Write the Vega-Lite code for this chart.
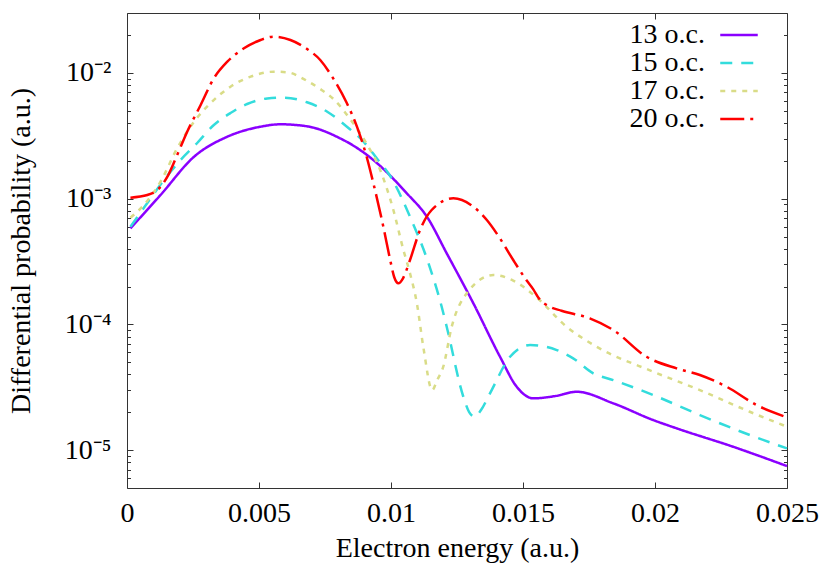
{
  "$schema": "https://vega.github.io/schema/vega-lite/v6.json",
  "width": 660,
  "height": 475,
  "autosize": {"type": "none"},
  "padding": {"left": 127, "top": 13, "right": 43, "bottom": 91},
  "background": "white",
  "data": {
    "values": [
      {"s": "13 o.c.", "E": 0.00013, "P": 0.000581},
      {"s": "13 o.c.", "E": 0.00127, "P": 0.00107},
      {"s": "13 o.c.", "E": 0.00254, "P": 0.002158},
      {"s": "13 o.c.", "E": 0.0038, "P": 0.003112},
      {"s": "13 o.c.", "E": 0.00506, "P": 0.00374},
      {"s": "13 o.c.", "E": 0.00581, "P": 0.003908},
      {"s": "13 o.c.", "E": 0.00682, "P": 0.003765},
      {"s": "13 o.c.", "E": 0.00807, "P": 0.003023},
      {"s": "13 o.c.", "E": 0.00883, "P": 0.00244},
      {"s": "13 o.c.", "E": 0.00933, "P": 0.002032},
      {"s": "13 o.c.", "E": 0.0106, "P": 0.001104},
      {"s": "13 o.c.", "E": 0.01136, "P": 0.000719},
      {"s": "13 o.c.", "E": 0.01211, "P": 0.000368},
      {"s": "13 o.c.", "E": 0.01312, "P": 0.0001472},
      {"s": "13 o.c.", "E": 0.01413, "P": 0.0000553},
      {"s": "13 o.c.", "E": 0.01476, "P": 0.00003195},
      {"s": "13 o.c.", "E": 0.01539, "P": 0.00002583},
      {"s": "13 o.c.", "E": 0.01621, "P": 0.0000269},
      {"s": "13 o.c.", "E": 0.01703, "P": 0.00002914},
      {"s": "13 o.c.", "E": 0.01842, "P": 0.00002357},
      {"s": "13 o.c.", "E": 0.01993, "P": 0.00001736},
      {"s": "13 o.c.", "E": 0.02082, "P": 0.00001491},
      {"s": "13 o.c.", "E": 0.02296, "P": 0.00001064},
      {"s": "13 o.c.", "E": 0.025, "P": 0.00000747},

      {"s": "15 o.c.", "E": 0.00013, "P": 0.000599},
      {"s": "15 o.c.", "E": 0.00077, "P": 0.000924},
      {"s": "15 o.c.", "E": 0.0014, "P": 0.001409},
      {"s": "15 o.c.", "E": 0.00203, "P": 0.002032},
      {"s": "15 o.c.", "E": 0.00266, "P": 0.002774},
      {"s": "15 o.c.", "E": 0.00329, "P": 0.003858},
      {"s": "15 o.c.", "E": 0.00392, "P": 0.004805},
      {"s": "15 o.c.", "E": 0.00455, "P": 0.005666},
      {"s": "15 o.c.", "E": 0.00531, "P": 0.006267},
      {"s": "15 o.c.", "E": 0.00594, "P": 0.00636},
      {"s": "15 o.c.", "E": 0.00682, "P": 0.005845},
      {"s": "15 o.c.", "E": 0.0076, "P": 0.004894},
      {"s": "15 o.c.", "E": 0.00833, "P": 0.00374},
      {"s": "15 o.c.", "E": 0.00896, "P": 0.00284},
      {"s": "15 o.c.", "E": 0.00946, "P": 0.002096},
      {"s": "15 o.c.", "E": 0.00997, "P": 0.001516},
      {"s": "15 o.c.", "E": 0.01072, "P": 0.000719},
      {"s": "15 o.c.", "E": 0.01142, "P": 0.0003063},
      {"s": "15 o.c.", "E": 0.01192, "P": 0.0001383},
      {"s": "15 o.c.", "E": 0.01211, "P": 0.0000959},
      {"s": "15 o.c.", "E": 0.01274, "P": 0.0000266},
      {"s": "15 o.c.", "E": 0.01296, "P": 0.0000201},
      {"s": "15 o.c.", "E": 0.01318, "P": 0.00001843},
      {"s": "15 o.c.", "E": 0.01341, "P": 0.00002085},
      {"s": "15 o.c.", "E": 0.01375, "P": 0.0000283},
      {"s": "15 o.c.", "E": 0.01451, "P": 0.0000553},
      {"s": "15 o.c.", "E": 0.01527, "P": 0.0000686},
      {"s": "15 o.c.", "E": 0.01628, "P": 0.00006255},
      {"s": "15 o.c.", "E": 0.0169, "P": 0.00005375},
      {"s": "15 o.c.", "E": 0.01766, "P": 0.0000408},
      {"s": "15 o.c.", "E": 0.01842, "P": 0.0000361},
      {"s": "15 o.c.", "E": 0.01993, "P": 0.00002744},
      {"s": "15 o.c.", "E": 0.0217, "P": 0.00001902},
      {"s": "15 o.c.", "E": 0.02359, "P": 0.00001319},
      {"s": "15 o.c.", "E": 0.025, "P": 0.00001033},

      {"s": "17 o.c.", "E": 0.00013, "P": 0.000706},
      {"s": "17 o.c.", "E": 0.00064, "P": 0.000891},
      {"s": "17 o.c.", "E": 0.00127, "P": 0.001365},
      {"s": "17 o.c.", "E": 0.0019, "P": 0.002518},
      {"s": "17 o.c.", "E": 0.00254, "P": 0.0041},
      {"s": "17 o.c.", "E": 0.00316, "P": 0.00574},
      {"s": "17 o.c.", "E": 0.00392, "P": 0.00778},
      {"s": "17 o.c.", "E": 0.00468, "P": 0.00935},
      {"s": "17 o.c.", "E": 0.00556, "P": 0.01024},
      {"s": "17 o.c.", "E": 0.00607, "P": 0.01013},
      {"s": "17 o.c.", "E": 0.00682, "P": 0.00865},
      {"s": "17 o.c.", "E": 0.00732, "P": 0.00746},
      {"s": "17 o.c.", "E": 0.00782, "P": 0.00621},
      {"s": "17 o.c.", "E": 0.00845, "P": 0.00431},
      {"s": "17 o.c.", "E": 0.00908, "P": 0.002724},
      {"s": "17 o.c.", "E": 0.00959, "P": 0.001692},
      {"s": "17 o.c.", "E": 0.01009, "P": 0.000813},
      {"s": "17 o.c.", "E": 0.01047, "P": 0.000391},
      {"s": "17 o.c.", "E": 0.01072, "P": 0.000255},
      {"s": "17 o.c.", "E": 0.01098, "P": 0.0001472},
      {"s": "17 o.c.", "E": 0.01123, "P": 0.000065},
      {"s": "17 o.c.", "E": 0.01156, "P": 0.00003},
      {"s": "17 o.c.", "E": 0.01175, "P": 0.0000361},
      {"s": "17 o.c.", "E": 0.01198, "P": 0.0000461},
      {"s": "17 o.c.", "E": 0.0123, "P": 0.0000959},
      {"s": "17 o.c.", "E": 0.01287, "P": 0.0001768},
      {"s": "17 o.c.", "E": 0.01388, "P": 0.0002472},
      {"s": "17 o.c.", "E": 0.01463, "P": 0.0002234},
      {"s": "17 o.c.", "E": 0.01552, "P": 0.0001637},
      {"s": "17 o.c.", "E": 0.01665, "P": 0.0000959},
      {"s": "17 o.c.", "E": 0.01779, "P": 0.0000665},
      {"s": "17 o.c.", "E": 0.01993, "P": 0.0000421},
      {"s": "17 o.c.", "E": 0.0217, "P": 0.00003006},
      {"s": "17 o.c.", "E": 0.02359, "P": 0.0000202},
      {"s": "17 o.c.", "E": 0.025, "P": 0.00001536},

      {"s": "20 o.c.", "E": 0.00013, "P": 0.001019},
      {"s": "20 o.c.", "E": 0.00077, "P": 0.00107},
      {"s": "20 o.c.", "E": 0.00115, "P": 0.001173},
      {"s": "20 o.c.", "E": 0.00153, "P": 0.001496},
      {"s": "20 o.c.", "E": 0.0019, "P": 0.002227},
      {"s": "20 o.c.", "E": 0.00228, "P": 0.00341},
      {"s": "20 o.c.", "E": 0.00279, "P": 0.005563},
      {"s": "20 o.c.", "E": 0.00329, "P": 0.00907},
      {"s": "20 o.c.", "E": 0.0038, "P": 0.0123},
      {"s": "20 o.c.", "E": 0.00443, "P": 0.01572},
      {"s": "20 o.c.", "E": 0.00506, "P": 0.0183},
      {"s": "20 o.c.", "E": 0.00556, "P": 0.01945},
      {"s": "20 o.c.", "E": 0.00619, "P": 0.0183},
      {"s": "20 o.c.", "E": 0.00682, "P": 0.01552},
      {"s": "20 o.c.", "E": 0.00732, "P": 0.01269},
      {"s": "20 o.c.", "E": 0.0078, "P": 0.00913},
      {"s": "20 o.c.", "E": 0.00833, "P": 0.00574},
      {"s": "20 o.c.", "E": 0.00871, "P": 0.00374},
      {"s": "20 o.c.", "E": 0.00908, "P": 0.002146},
      {"s": "20 o.c.", "E": 0.00933, "P": 0.001333},
      {"s": "20 o.c.", "E": 0.00971, "P": 0.000599},
      {"s": "20 o.c.", "E": 0.00997, "P": 0.0003253},
      {"s": "20 o.c.", "E": 0.01012, "P": 0.0002383},
      {"s": "20 o.c.", "E": 0.01028, "P": 0.0002123},
      {"s": "20 o.c.", "E": 0.01046, "P": 0.000234},
      {"s": "20 o.c.", "E": 0.01072, "P": 0.0003253},
      {"s": "20 o.c.", "E": 0.0111, "P": 0.000564},
      {"s": "20 o.c.", "E": 0.01154, "P": 0.000813},
      {"s": "20 o.c.", "E": 0.01236, "P": 0.001007},
      {"s": "20 o.c.", "E": 0.01312, "P": 0.000864},
      {"s": "20 o.c.", "E": 0.01363, "P": 0.000677},
      {"s": "20 o.c.", "E": 0.01413, "P": 0.0004825},
      {"s": "20 o.c.", "E": 0.01463, "P": 0.0003253},
      {"s": "20 o.c.", "E": 0.01514, "P": 0.0002234},
      {"s": "20 o.c.", "E": 0.01539, "P": 0.0001902},
      {"s": "20 o.c.", "E": 0.0156, "P": 0.0001613},
      {"s": "20 o.c.", "E": 0.01596, "P": 0.0001401},
      {"s": "20 o.c.", "E": 0.01646, "P": 0.0001285},
      {"s": "20 o.c.", "E": 0.01753, "P": 0.0001118},
      {"s": "20 o.c.", "E": 0.01842, "P": 0.0000903},
      {"s": "20 o.c.", "E": 0.01968, "P": 0.0000553},
      {"s": "20 o.c.", "E": 0.02082, "P": 0.0000447},
      {"s": "20 o.c.", "E": 0.0217, "P": 0.0000396},
      {"s": "20 o.c.", "E": 0.02271, "P": 0.00003195},
      {"s": "20 o.c.", "E": 0.02385, "P": 0.00002285},
      {"s": "20 o.c.", "E": 0.025, "P": 0.00001824}
    ]
  },
  "resolve": {"axis": {"x": "independent", "y": "independent"}},
  "layer": [
    {
      "mark": {"type": "line", "strokeWidth": 2.5, "interpolate": "monotone"},
      "encoding": {
        "x": {
          "field": "E", "type": "quantitative",
          "scale": {"domain": [0, 0.025], "nice": false, "zero": false},
          "axis": {
            "orient": "bottom",
            "values": [0, 0.005, 0.01, 0.015, 0.02, 0.025],
            "format": "~g",
            "labelFlush": false,
            "tickSize": -6,
            "labelPadding": 17,
            "title": "Electron energy (a.u.)",
            "titlePadding": 7
          }
        },
        "y": {
          "field": "P", "type": "quantitative",
          "scale": {"type": "log", "domain": [0.000005, 0.03], "nice": false},
          "axis": {
            "orient": "left",
            "values": [0.00001, 0.0001, 0.001, 0.01],
            "labelExpr": "datum.value > 0.005 ? '10⁻²' : datum.value > 0.0005 ? '10⁻³' : datum.value > 0.00005 ? '10⁻⁴' : '10⁻⁵'",
            "labelFlush": false,
            "tickSize": -6,
            "labelPadding": 22,
            "title": "Differential probability (a.u.)",
            "titlePadding": 29
          }
        },
        "color": {
          "field": "s", "type": "nominal",
          "scale": {
            "domain": ["13 o.c.", "15 o.c.", "17 o.c.", "20 o.c."],
            "range": ["#8a00ff", "#33dcdc", "#d9dc87", "#ff0000"]
          },
          "legend": {"title": null, "orient": "none", "legendX": 598, "legendY": 8}
        },
        "strokeDash": {
          "field": "s", "type": "nominal",
          "scale": {
            "domain": ["13 o.c.", "15 o.c.", "17 o.c.", "20 o.c."],
            "range": [[1, 0], [12, 9], [5, 6], [24, 6, 3, 6]]
          },
          "legend": {"title": null, "orient": "none", "legendX": 598, "legendY": 8}
        }
      }
    },
    {
      "mark": {"type": "point", "opacity": 0},
      "encoding": {
        "x": {
          "field": "E", "type": "quantitative",
          "scale": {"domain": [0, 0.025], "nice": false, "zero": false},
          "axis": {"orient": "top", "values": [0, 0.005, 0.01, 0.015, 0.02, 0.025], "labels": false, "tickSize": -6, "title": null}
        },
        "y": {
          "field": "P", "type": "quantitative",
          "scale": {"type": "log", "domain": [0.000005, 0.03], "nice": false},
          "axis": {"orient": "right", "values": [0.00001, 0.0001, 0.001, 0.01], "labels": false, "tickSize": -6, "title": null}
        }
      }
    },
    {
      "mark": {"type": "point", "opacity": 0},
      "encoding": {
        "x": {"field": "E", "type": "quantitative", "scale": {"domain": [0, 0.025], "nice": false, "zero": false}, "axis": null},
        "y": {
          "field": "P", "type": "quantitative",
          "scale": {"type": "log", "domain": [0.000005, 0.03], "nice": false},
          "axis": {
            "orient": "left",
            "values": [0.000006, 0.000007, 0.000008, 0.000009, 0.00002, 0.00003, 0.00004, 0.00005, 0.00006, 0.00007, 0.00008, 0.00009, 0.0002, 0.0003, 0.0004, 0.0005, 0.0006, 0.0007, 0.0008, 0.0009, 0.002, 0.003, 0.004, 0.005, 0.006, 0.007, 0.008, 0.009, 0.02],
            "labels": false, "tickSize": -3.5, "title": null
          }
        }
      }
    },
    {
      "mark": {"type": "point", "opacity": 0},
      "encoding": {
        "x": {"field": "E", "type": "quantitative", "scale": {"domain": [0, 0.025], "nice": false, "zero": false}, "axis": null},
        "y": {
          "field": "P", "type": "quantitative",
          "scale": {"type": "log", "domain": [0.000005, 0.03], "nice": false},
          "axis": {
            "orient": "right",
            "values": [0.000006, 0.000007, 0.000008, 0.000009, 0.00002, 0.00003, 0.00004, 0.00005, 0.00006, 0.00007, 0.00008, 0.00009, 0.0002, 0.0003, 0.0004, 0.0005, 0.0006, 0.0007, 0.0008, 0.0009, 0.002, 0.003, 0.004, 0.005, 0.006, 0.007, 0.008, 0.009, 0.02],
            "labels": false, "tickSize": -3.5, "title": null
          }
        }
      }
    }
  ],
  "config": {
    "view": {"stroke": "#333333", "strokeWidth": 1},
    "axis": {
      "grid": false,
      "domain": false,
      "tickColor": "#333333",
      "tickWidth": 1,
      "labelFont": "Liberation Serif",
      "labelFontSize": 28,
      "labelColor": "black",
      "titleFont": "Liberation Serif",
      "titleFontSize": 28,
      "titleFontWeight": "normal",
      "titleColor": "black"
    },
    "legend": {
      "labelFont": "Liberation Serif",
      "labelFontSize": 28,
      "labelColor": "black",
      "symbolType": "M-1.5,0H1.5",
      "symbolStrokeWidth": 2.5,
      "symbolSize": 625,
      "labelAlign": "right",
      "labelOffset": -48,
      "rowPadding": -7,
      "padding": 0
    }
  }
}
